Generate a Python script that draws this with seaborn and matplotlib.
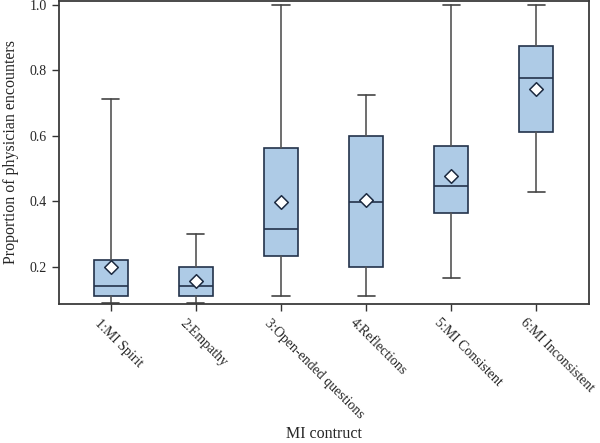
import matplotlib
matplotlib.use("Agg")
import matplotlib.pyplot as plt
import matplotlib.transforms as mtransforms
import seaborn as sns
import pandas as pd

categories = ["1:MI Spirit", "2:Empathy", "3:Open-ended questions",
              "4:Reflections", "5:MI Consistent", "6:MI Inconsistent"]
whisker_low = [0.091, 0.091, 0.111, 0.111, 0.166, 0.428]
q1 = [0.111, 0.111, 0.234, 0.200, 0.363, 0.611]
median = [0.143, 0.143, 0.316, 0.398, 0.448, 0.776]
q3 = [0.222, 0.200, 0.562, 0.599, 0.570, 0.873]
whisker_high = [0.713, 0.300, 1.000, 0.724, 1.000, 1.000]
mean = [0.201, 0.157, 0.398, 0.405, 0.476, 0.744]
yticks = [0.2, 0.4, 0.6, 0.8, 1.0]

sns.set_style("ticks")
plt.rcParams["font.family"] = ["Liberation Serif", "DejaVu Serif"]

fig = plt.figure(figsize=(6.0, 4.43), dpi=100)
ax = fig.add_axes([0.098, 0.314, 0.884, 0.684])

stats = []
for i, c in enumerate(categories):
    stats.append(dict(label=c, whislo=whisker_low[i], q1=q1[i], med=median[i],
                      q3=q3[i], whishi=whisker_high[i], fliers=[]))

positions = list(range(len(categories)))
ax.bxp(stats, positions=positions, widths=0.4, patch_artist=True, showfliers=False,
       boxprops=dict(facecolor="#aecbe6", edgecolor="#23324a", linewidth=1.2),
       medianprops=dict(color="#23324a", linewidth=1.2),
       whiskerprops=dict(color="#555555", linewidth=1.2),
       capprops=dict(color="#444444", linewidth=1.2))

df = pd.DataFrame({"pos": positions, "mean": mean})
sns.scatterplot(data=df, x="pos", y="mean", ax=ax, marker="D", s=48,
                facecolor="white", edgecolor="#1c2a40", linewidth=1.1, zorder=5)

ax.set_xlim(-0.61, 5.62)
ax.set_ylim(0.087, 1.012)
ax.set_yticks(yticks)
ax.set_yticklabels([f"{t:.1f}" for t in yticks])
ax.set_xticks(positions)
ax.set_xticklabels(categories, rotation=-45, ha="left", va="top",
                   rotation_mode="anchor")
ax.tick_params(axis="both", labelsize=10, color="#333333", length=5, width=1)
ax.tick_params(axis="x", pad=3)
shift = mtransforms.ScaledTranslation(-7 / 72, -1 / 72, fig.dpi_scale_trans)
for lab in ax.get_xticklabels():
    lab.set_transform(lab.get_transform() + shift)
for s in ax.spines.values():
    s.set_visible(True)
    s.set_color("#3a3a3a")
    s.set_linewidth(1.3)

ax.set_xlabel("MI contruct", fontsize=11.5, labelpad=4)
ax.set_ylabel("Proportion of physician encounters", fontsize=11.5, labelpad=8)

fig.savefig("out.png", dpi=100)
